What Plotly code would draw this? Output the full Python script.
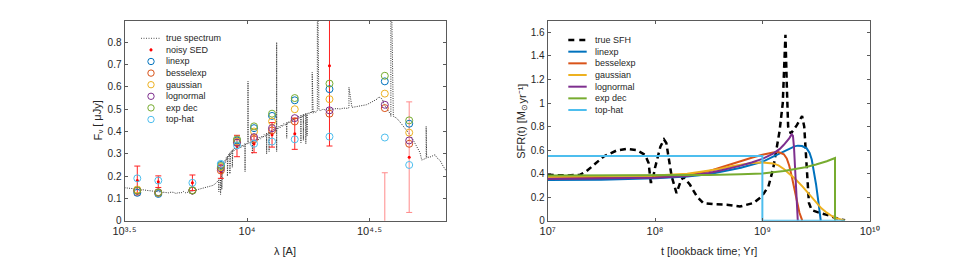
import plotly.graph_objects as go

# ---------------- LEFT PANEL DATA ----------------
spec_wave = [3162, 3236, 3311, 3388, 3467, 3548, 3631, 3715, 3802, 3890, 3981, 4074, 4169, 4266, 4365, 4467,
             4571, 4677, 4786, 4898, 5012, 5129, 5248, 5370, 5495, 5623, 5754, 5888, 6026, 6166, 6310, 6457,
             6607, 6761, 6918, 7079, 7244, 7413, 7500, 7586, 7674, 7674, 7674, 7762, 7798, 7798, 7798, 7852,
             7889, 7889, 7889, 7943, 7990, 8035, 8080, 8128, 8175, 8222, 8270, 8318, 8318, 8318, 8366, 8414,
             8462, 8511, 8511, 8511, 8560, 8610, 8660, 8710, 8710, 8710, 8750, 8790, 8850, 8913, 9016, 9120,
             9226, 9333, 9441, 9550, 9660, 9772, 9817, 9817, 9817, 9900, 10000, 10093, 10093, 10093, 10233,
             10350, 10471, 10520, 10520, 10520, 10600, 10715, 10840, 10965, 11090, 11220, 11350, 11482, 11610,
             11749, 11880, 12023, 12023, 12023, 12160, 12303, 12303, 12303, 12445, 12589, 12735, 12882, 13040,
             13213, 13213, 13213, 13213, 13350, 13490, 13650, 13804, 13960, 14125, 14320, 14521, 14521, 14521,
             14650, 14791, 14960, 15136, 15310, 15488, 15660, 15849, 16030, 16218, 16400, 16596, 16596, 16596,
             16790, 16982, 16982, 16982, 17180, 17378, 17378, 17378, 17579, 17579, 17579, 17783, 17990, 18197,
             18400, 18450, 18450, 18621, 18830, 19055, 19364, 19364, 19364, 19650, 19953, 20420, 20893, 21630,
             22387, 23170, 23988, 24800, 25704, 26062, 26062, 26062, 26800, 27542, 28700, 29854, 30700, 31623,
             32800, 33884, 34500, 35075, 35700, 36308, 37154, 37900, 38637, 38637, 38637, 39537, 40800, 42073,
             43450, 44875, 46300, 47753, 49250, 50816, 51640, 52481, 53827, 53827, 53827, 54075, 55750, 57544,
             58550, 59566, 61376, 63096, 65313]
spec_flux = [0.148, 0.147, 0.146, 0.144, 0.145, 0.142, 0.141, 0.139, 0.138, 0.136, 0.134, 0.135, 0.133, 0.131,
             0.130, 0.129, 0.128, 0.127, 0.125, 0.128, 0.127, 0.122, 0.126, 0.124, 0.131, 0.125, 0.128, 0.131,
             0.134, 0.137, 0.139, 0.141, 0.143, 0.146, 0.150, 0.152, 0.158, 0.165, 0.170, 0.178, 0.183, 0.130,
             0.183, 0.190, 0.195, 0.118, 0.195, 0.210, 0.220, 0.140, 0.220, 0.235, 0.228, 0.255, 0.248, 0.270,
             0.262, 0.282, 0.272, 0.290, 0.200, 0.290, 0.283, 0.298, 0.290, 0.305, 0.210, 0.305, 0.297, 0.310,
             0.302, 0.318, 0.240, 0.318, 0.310, 0.322, 0.314, 0.326, 0.318, 0.332, 0.322, 0.336, 0.327, 0.340,
             0.331, 0.345, 0.338, 0.220, 0.338, 0.348, 0.342, 0.350, 0.625, 0.350, 0.345, 0.356, 0.350, 0.356,
             0.300, 0.356, 0.352, 0.362, 0.355, 0.368, 0.360, 0.374, 0.366, 0.380, 0.372, 0.386, 0.378, 0.392,
             0.300, 0.392, 0.385, 0.398, 0.310, 0.398, 0.390, 0.405, 0.398, 0.412, 0.404, 0.418, 0.800, 0.310,
             0.418, 0.410, 0.424, 0.416, 0.430, 0.422, 0.436, 0.428, 0.440, 0.370, 0.440, 0.434, 0.446, 0.438,
             0.452, 0.444, 0.457, 0.450, 0.463, 0.455, 0.468, 0.460, 0.472, 0.350, 0.472, 0.465, 0.477, 0.360,
             0.477, 0.470, 0.481, 0.345, 0.481, 0.475, 0.380, 0.475, 0.485, 0.478, 0.489, 0.482, 0.482, 0.665,
             0.482, 0.492, 0.485, 0.495, 0.497, 1.200, 0.497, 0.494, 0.500, 0.497, 0.502, 0.500, 0.503, 0.501,
             0.505, 0.504, 0.507, 0.508, 0.598, 0.508, 0.510, 0.512, 0.515, 0.520, 0.527, 0.535, 0.545, 0.555,
             0.550, 0.545, 0.520, 0.505, 0.490, 0.475, 0.468, 1.200, 0.468, 0.460, 0.443, 0.425, 0.405, 0.385,
             0.360, 0.335, 0.305, 0.272, 0.276, 0.280, 0.284, 0.423, 0.284, 0.285, 0.290, 0.296, 0.282, 0.270,
             0.245, 0.220, 0.198]

band_wave = [3566, 4345, 5986, 7820, 9100, 10680, 12650, 15660, 21700, 36500, 45900]
sed_flux = [0.180, 0.175, 0.170, 0.220, 0.335, 0.345, 0.385, 0.390, 0.695, -0.050, 0.285]
sed_err = [0.065, 0.026, 0.035, 0.030, 0.048, 0.040, 0.055, 0.070, 0.360, 0.265, 0.248]

fit_linexp = [0.125, 0.120, 0.135, 0.250, 0.360, 0.415, 0.470, 0.540, 0.590, 0.625, 0.435]
fit_besselexp = [0.135, 0.125, 0.135, 0.225, 0.350, 0.365, 0.405, 0.445, 0.480, 0.505, 0.345]
fit_gaussian = [0.140, 0.128, 0.137, 0.240, 0.355, 0.400, 0.445, 0.500, 0.545, 0.570, 0.395]
fit_lognormal = [0.135, 0.127, 0.136, 0.235, 0.350, 0.375, 0.415, 0.460, 0.495, 0.520, 0.360]
fit_expdec = [0.135, 0.126, 0.136, 0.245, 0.365, 0.423, 0.480, 0.550, 0.615, 0.650, 0.450]
fit_tophat = [0.190, 0.180, 0.170, 0.255, 0.338, 0.345, 0.355, 0.365, 0.377, 0.373, 0.250]

# ---------------- RIGHT PANEL DATA ----------------
sfh_t = [1.0e7, 1.514e7, 1.995e7, 2.291e7, 2.661e7, 3.311e7, 4.365e7, 5.445e7, 6.761e7, 8.072e7, 8.710e7,
         9.120e7, 9.441e7, 1.0e8, 1.122e8, 1.213e8, 1.274e8, 1.429e8, 1.585e8, 1.710e8, 1.837e8, 2.118e8,
         2.455e8, 2.818e8, 3.491e8, 4.656e8, 6.166e8, 8.241e8, 9.863e8, 1.138e9, 1.259e9, 1.358e9, 1.445e9,
         1.549e9, 1.603e9, 1.641e9, 1.687e9, 1.738e9, 1.841e9, 1.950e9, 2.089e9, 2.239e9, 2.344e9, 2.455e9,
         2.600e9, 2.716e9, 2.884e9, 3.162e9, 3.467e9, 3.981e9, 4.571e9, 5.248e9, 5.888e9]
sfh_true = [0.390, 0.385, 0.390, 0.420, 0.470, 0.545, 0.596, 0.610, 0.600, 0.560, 0.490, 0.330, 0.330,
            0.450, 0.630, 0.690, 0.660, 0.376, 0.235, 0.320, 0.375, 0.305, 0.206, 0.150, 0.141, 0.136,
            0.120, 0.150, 0.206, 0.290, 0.440, 0.620, 0.760, 1.000, 1.350, 1.580, 1.170, 0.800, 0.740,
            0.770, 0.810, 0.857, 0.890, 0.800, 0.460, 0.150, 0.090, 0.075, 0.065, 0.050, 0.030, 0.012, 0.003]

linexp_t = [1.0e7, 3.162e7, 1.0e8, 1.995e8, 3.162e8, 3.981e8, 5.012e8, 6.310e8, 7.943e8, 1.0e9, 1.259e9,
            1.585e9, 1.778e9, 1.995e9, 2.138e9, 2.344e9, 2.588e9, 2.754e9, 2.884e9, 3.020e9, 3.162e9,
            3.327e9, 3.428e9, 3.499e9]
linexp_sfr = [0.345, 0.348, 0.360, 0.375, 0.395, 0.412, 0.430, 0.450, 0.475, 0.500, 0.545, 0.590, 0.613,
              0.632, 0.638, 0.635, 0.615, 0.575, 0.520, 0.430, 0.310, 0.160, 0.060, 0.0]

bessel_t = [1.0e7, 3.162e7, 1.0e8, 1.995e8, 3.162e8, 3.981e8, 5.012e8, 6.310e8, 7.943e8, 1.0e9, 1.259e9,
            1.413e9, 1.585e9, 1.687e9, 1.778e9, 1.875e9, 1.995e9, 2.089e9, 2.213e9, 2.355e9]
bessel_sfr = [0.360, 0.362, 0.372, 0.390, 0.420, 0.450, 0.475, 0.505, 0.535, 0.560, 0.580, 0.583, 0.565,
              0.530, 0.470, 0.380, 0.260, 0.170, 0.070, 0.0]

gauss_t = [1.0e7, 3.162e7, 1.0e8, 1.995e8, 3.162e8, 3.981e8, 5.012e8, 6.310e8, 7.943e8, 1.0e9, 1.122e9,
           1.259e9, 1.413e9, 1.585e9, 1.778e9, 1.995e9, 2.371e9, 2.754e9, 3.206e9, 3.548e9, 3.981e9,
           4.467e9, 4.898e9, 5.370e9, 5.888e9]
gauss_sfr = [0.375, 0.377, 0.385, 0.400, 0.425, 0.440, 0.460, 0.478, 0.490, 0.495, 0.494, 0.487, 0.470,
             0.440, 0.400, 0.360, 0.290, 0.220, 0.150, 0.105, 0.068, 0.038, 0.022, 0.010, 0.0]

lognorm_t = [1.0e7, 3.162e7, 1.0e8, 1.995e8, 3.162e8, 3.981e8, 5.012e8, 6.310e8, 7.943e8, 1.0e9, 1.259e9,
             1.455e9, 1.585e9, 1.679e9, 1.778e9, 1.875e9, 1.928e9, 1.972e9, 2.018e9, 2.065e9, 2.104e9,
             2.138e9]
lognorm_sfr = [0.355, 0.357, 0.365, 0.380, 0.405, 0.425, 0.445, 0.468, 0.495, 0.525, 0.570, 0.610, 0.645,
               0.670, 0.700, 0.734, 0.720, 0.620, 0.450, 0.260, 0.100, 0.0]

expdec_t = [1.0e7, 1.0e8, 3.162e8, 6.310e8, 1.0e9, 1.585e9, 1.995e9, 2.512e9, 3.162e9, 3.981e9, 4.753e9,
            4.753e9]
expdec_sfr = [0.384, 0.386, 0.388, 0.394, 0.402, 0.423, 0.437, 0.455, 0.478, 0.505, 0.533, 0.0]

tophat_t = [1.0e7, 1.0e9, 1.0e9, 5.888e9]
tophat_sfr = [0.55, 0.55, 0.0, 0.0]

left_xtick_vals = [10 ** 3.5, 1e4, 10 ** 4.5]
left_xtick_text = ["10³·⁵", "10⁴", "10⁴·⁵"]
left_ytick_vals = [0, 0.1, 0.2, 0.3, 0.4, 0.5, 0.6, 0.7, 0.8]
right_xtick_vals = [1e7, 1e8, 1e9, 1e10]
right_xtick_text = ["10⁷", "10⁸", "10⁹", "10¹⁰"]
right_ytick_vals = [0, 0.2, 0.4, 0.6, 0.8, 1.0, 1.2, 1.4, 1.6]

# ---------------- STYLE ----------------
W, H = 961, 268
FONT = "Liberation Sans, Arial, Helvetica, sans-serif"
C_LIN, C_BES, C_GAU, C_LOG, C_EXP, C_TOP = "#0072BD", "#D95319", "#EDB120", "#7E2F8E", "#77AC30", "#4DBEEE"
AX = "#5a5a5a"
TXT = "#262626"


def px(xp):
    return xp / W


def py(yp):
    return 1 - yp / H


fig = go.Figure()

# left panel
fig.add_trace(go.Scatter(x=spec_wave, y=spec_flux, mode="lines", xaxis="x", yaxis="y",
                         line=dict(color="#333333", width=1, dash="1px,1.3px"), showlegend=False))
fig.add_trace(go.Scatter(x=band_wave[:9], y=sed_flux[:9], mode="markers", xaxis="x", yaxis="y",
                         marker=dict(color="#ff0000", size=3),
                         error_y=dict(type="data", array=sed_err[:9], color="#ff2020", thickness=1, width=3),
                         showlegend=False))
fig.add_trace(go.Scatter(x=band_wave[9:], y=sed_flux[9:], mode="markers", xaxis="x", yaxis="y",
                         marker=dict(color="#ff0000", size=3),
                         error_y=dict(type="data", array=sed_err[9:], color="#ff8a8a", thickness=1, width=3),
                         showlegend=False))
for vals, col in [(fit_linexp, C_LIN), (fit_besselexp, C_BES), (fit_gaussian, C_GAU),
                  (fit_lognormal, C_LOG), (fit_expdec, C_EXP), (fit_tophat, C_TOP)]:
    fig.add_trace(go.Scatter(x=band_wave, y=vals, mode="markers", xaxis="x", yaxis="y",
                             marker=dict(symbol="circle-open", size=7, color=col, line=dict(width=1)),
                             showlegend=False))

# right panel
fig.add_trace(go.Scatter(x=sfh_t, y=sfh_true, mode="lines", xaxis="x2", yaxis="y2",
                         line=dict(color="black", width=2.5, dash="6px,4px"), showlegend=False))
for tt, vv, col in [(linexp_t, linexp_sfr, C_LIN), (bessel_t, bessel_sfr, C_BES), (gauss_t, gauss_sfr, C_GAU),
                    (lognorm_t, lognorm_sfr, C_LOG), (expdec_t, expdec_sfr, C_EXP), (tophat_t, tophat_sfr, C_TOP)]:
    fig.add_trace(go.Scatter(x=tt, y=vv, mode="lines", xaxis="x2", yaxis="y2",
                             line=dict(color=col, width=2), showlegend=False))

axis_common = dict(showline=True, linecolor=AX, linewidth=1, mirror="ticks", ticks="inside", ticklen=3,
                   tickcolor=AX, tickwidth=1, showgrid=False, zeroline=False, automargin=False,
                   tickfont=dict(family=FONT, size=10, color=TXT))
xtick_font = dict(family=FONT, size=11, color=TXT)
ydom = [py(220.7), py(20.7)]
fig.update_layout(
    template="none",
    width=W, height=H, margin=dict(l=0, r=0, t=0, b=0, pad=0), autosize=False,
    paper_bgcolor="white", plot_bgcolor="white", showlegend=False,
    font=dict(family=FONT, color=TXT, size=10),
    xaxis=dict(type="log", range=[3.5, 4.812], domain=[px(124.5), px(446)], anchor="y",
               tickmode="array", tickvals=left_xtick_vals, ticktext=left_xtick_text,
               **{**axis_common, "tickfont": xtick_font}),
    yaxis=dict(range=[0, 0.897], domain=ydom, anchor="x", tickmode="array", tickvals=left_ytick_vals,
               **axis_common),
    xaxis2=dict(type="log", range=[7, 10], domain=[px(547.7), px(869.7)], anchor="y2",
                tickmode="array", tickvals=right_xtick_vals, ticktext=right_xtick_text,
                **{**axis_common, "tickfont": xtick_font}),
    yaxis2=dict(range=[0, 1.7], domain=ydom, anchor="x2", tickmode="array", tickvals=right_ytick_vals,
                **axis_common),
)

annotations = []
shapes = []


def title_piece(text, xc, yc, size, angle=0):
    annotations.append(dict(text=text, x=px(xc), y=py(yc), xref="paper", yref="paper", showarrow=False,
                            textangle=angle, xanchor="center", yanchor="middle",
                            font=dict(size=size, family=FONT, color=TXT)))


# axis titles
title_piece("λ [A]", 285, 251, 11)
title_piece("t [lookback time; Yr]", 708.7, 251, 11)
# rotated y title of left panel: "F", subscript "ν", "[ μJy]"
title_piece("F", 97, 137.5, 11, -90)
title_piece("ν", 100.5, 132.1, 8, -90)
title_piece("[ μJy]", 97, 113.8, 11, -90)
# rotated y title of right panel: "SFR(t) [M", subscript "⊙", "yr⁻¹]"
title_piece("SFR(t) [M", 521, 134.8, 11, -90)
title_piece("⊙", 524.5, 107.6, 8, -90)
title_piece("yr⁻¹]", 521, 93.5, 11, -90)

# left legend
left_labels = ["true spectrum", "noisy SED", "linexp", "besselexp", "gaussian", "lognormal", "exp dec", "top-hat"]
row_y = [38.3 + 11.6 * i for i in range(8)]
for lab, yy in zip(left_labels, row_y):
    annotations.append(dict(text=lab, x=px(163.5), y=py(yy), xref="paper", yref="paper", showarrow=False,
                            xanchor="left", yanchor="middle", font=dict(size=9, family=FONT, color=TXT)))
shapes.append(dict(type="line", xref="paper", yref="paper", x0=px(141), x1=px(161), y0=py(row_y[0]),
                   y1=py(row_y[0]), line=dict(color="#505050", width=1, dash="1px,1.5px")))
shapes.append(dict(type="circle", xref="paper", yref="paper", xsizemode="pixel", ysizemode="pixel",
                   xanchor=px(151), yanchor=py(row_y[1]), x0=-1.3, x1=1.3, y0=-1.3, y1=1.3,
                   fillcolor="#ff0000", line=dict(color="#ff0000", width=0.5)))
for col, yy in zip([C_LIN, C_BES, C_GAU, C_LOG, C_EXP, C_TOP], row_y[2:]):
    shapes.append(dict(type="circle", xref="paper", yref="paper", xsizemode="pixel", ysizemode="pixel",
                       xanchor=px(151), yanchor=py(yy), x0=-3.2, x1=3.2, y0=-3.2, y1=3.2,
                       line=dict(color=col, width=1)))

# right legend
right_labels = ["true SFH", "linexp", "besselexp", "gaussian", "lognormal", "exp dec", "top-hat"]
rrow_y = [40 + 11.67 * i for i in range(7)]
for lab, yy in zip(right_labels, rrow_y):
    annotations.append(dict(text=lab, x=px(592.5), y=py(yy), xref="paper", yref="paper", showarrow=False,
                            xanchor="left", yanchor="middle", font=dict(size=9, family=FONT, color=TXT)))
shapes.append(dict(type="line", xref="paper", yref="paper", x0=px(568.3), x1=px(586.7), y0=py(rrow_y[0]),
                   y1=py(rrow_y[0]), line=dict(color="black", width=2.5, dash="6px,5px")))
for col, yy in zip([C_LIN, C_BES, C_GAU, C_LOG, C_EXP, C_TOP], rrow_y[1:]):
    shapes.append(dict(type="line", xref="paper", yref="paper", x0=px(568.3), x1=px(586.7), y0=py(yy),
                       y1=py(yy), line=dict(color=col, width=2)))

fig.update_layout(annotations=annotations, shapes=shapes)
fig.write_html(
    "out.html",
    config={"displayModeBar": False},
    post_script="document.body.style.margin='0';document.body.style.padding='0';"
                "document.body.style.overflow='hidden';",
)
